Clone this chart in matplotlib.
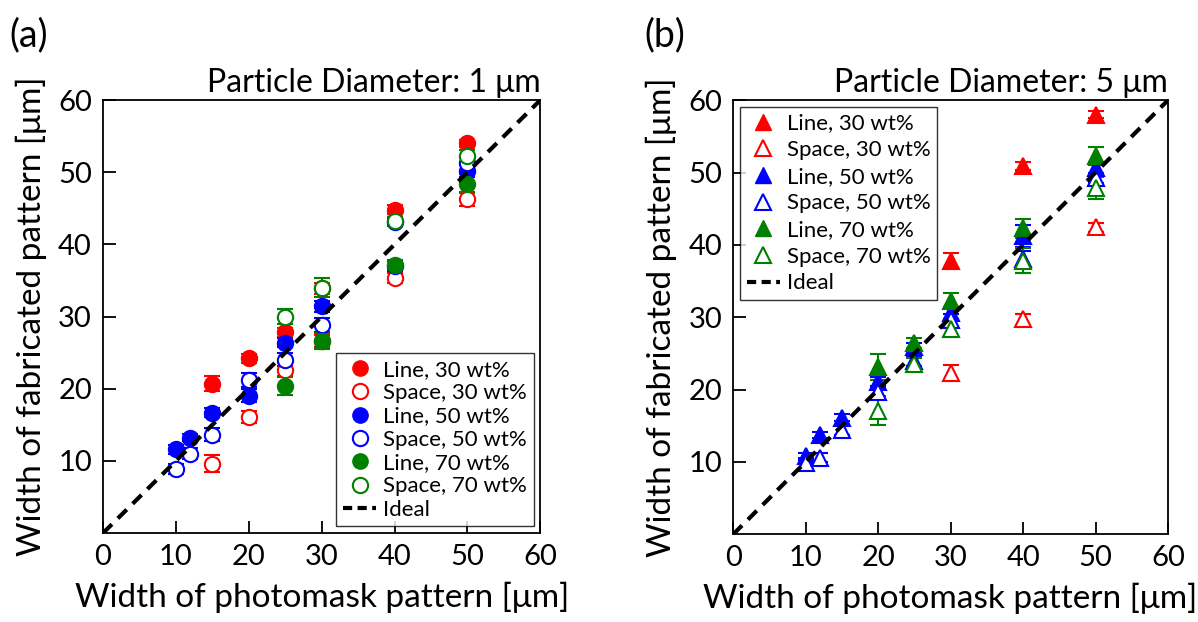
import matplotlib
matplotlib.use("Agg")
import matplotlib.pyplot as plt
from matplotlib.lines import Line2D

plt.rcParams['font.family'] = ['Lato', 'DejaVu Sans']

# panel (a): particle diameter 1 um
a_x_line30 = [15, 20, 25, 30, 40, 50]
a_line30 = [20.7, 24.2, 27.8, 33.9, 44.8, 54.0]
a_line30_err = [1.0, 0.6, 0.6, 0.8, 0.6, 0.5]
a_space30 = [9.6, 16.1, 22.6, 26.6, 35.4, 46.3]
a_space30_err = [1.2, 0.8, 1.0, 0.8, 0.7, 1.0]
a_x_50 = [10, 12, 15, 20, 25, 30, 40, 50]
a_line50 = [11.6, 13.2, 16.7, 19.0, 26.4, 31.4, 43.1, 50.2]
a_line50_err = [0.6, 0.5, 0.6, 0.9, 0.6, 0.8, 0.6, 0.8]
a_space50 = [8.9, 11.0, 13.6, 21.2, 24.0, 28.8, 37.0, 51.3]
a_space50_err = [0.7, 0.8, 0.9, 1.0, 0.9, 1.0, 0.7, 1.0]
a_x_70 = [25, 30, 40, 50]
a_line70 = [20.4, 26.6, 37.2, 48.4]
a_line70_err = [1.3, 1.1, 0.7, 1.3]
a_space70 = [30.0, 34.0, 43.2, 52.2]
a_space70_err = [1.0, 1.3, 0.6, 0.9]

# panel (b): particle diameter 5 um
b_x_30 = [30, 40, 50]
b_line30 = [37.8, 50.9, 58.0]
b_line30_err = [1.1, 0.6, 0.5]
b_space30 = [22.3, 29.7, 42.4]
b_space30_err = [1.1, 0.8, 0.6]
b_x_50 = [10, 12, 15, 20, 25, 30, 40, 50]
b_line50 = [10.8, 13.7, 16.1, 21.0, 25.9, 30.6, 41.2, 50.6]
b_line50_err = [0.5, 0.4, 0.5, 0.8, 0.6, 0.8, 1.5, 0.8]
b_space50 = [9.8, 10.6, 14.4, 19.6, 24.0, 29.6, 38.1, 49.3]
b_space50_err = [0.8, 0.6, 0.7, 0.9, 0.7, 0.9, 1.0, 0.7]
b_x_70 = [20, 25, 30, 40, 50]
b_line70 = [23.1, 26.4, 32.3, 42.3, 52.3]
b_line70_err = [1.8, 0.7, 1.0, 1.3, 1.2]
b_space70 = [17.1, 23.5, 28.4, 37.8, 47.9]
b_space70_err = [2.0, 0.8, 1.2, 1.7, 1.5]

ticks_x = [0, 10, 20, 30, 40, 50, 60]
ticks_y = [10, 20, 30, 40, 50, 60]

fig = plt.figure(figsize=(11.98, 6.22), dpi=100)
ax_a = fig.add_axes([0.086, 0.143, 0.365, 0.696])
ax_b = fig.add_axes([0.612, 0.141, 0.363, 0.698])


def series(ax, x, y, err, color, marker, filled, label):
    ax.errorbar(x, y, yerr=err, fmt=marker, color=color, ms=11,
                mfc=color if filled else 'white', mec=color, mew=1.5,
                ecolor=color, elinewidth=1.5, capsize=6, capthick=1.5,
                label=label, zorder=3)


def style(ax, title, legend_loc, handles, spacing):
    ax.plot([0, 60], [0, 60], ls=(0, (3, 2)), color='black', lw=3, zorder=4)
    ax.set_xlim(0, 60)
    ax.set_ylim(0, 60)
    ax.set_xticks(ticks_x)
    ax.set_yticks(ticks_y)
    ax.tick_params(direction='in', length=9, width=1.3, labelsize=21, pad=8)
    for s in ax.spines.values():
        s.set_linewidth(1.3)
    ax.set_xlabel('Width of photomask pattern [μm]', fontsize=24, labelpad=8)
    ax.set_ylabel('Width of fabricated pattern [μm]', fontsize=24, labelpad=8)
    ax.set_title(title, fontsize=23, loc='right', pad=6)
    ax.legend(handles=handles, loc=legend_loc, fontsize=16, frameon=True,
              fancybox=False, edgecolor='black', handletextpad=0.3,
              handlelength=1.5, borderpad=0.3, labelspacing=spacing,
              borderaxespad=0.3)


series(ax_a, a_x_line30, a_line30, a_line30_err, 'red', 'o', True, 'Line, 30 wt%')
series(ax_a, a_x_line30, a_space30, a_space30_err, 'red', 'o', False, 'Space, 30 wt%')
series(ax_a, a_x_50, a_line50, a_line50_err, 'blue', 'o', True, 'Line, 50 wt%')
series(ax_a, a_x_50, a_space50, a_space50_err, 'blue', 'o', False, 'Space, 50 wt%')
series(ax_a, a_x_70, a_line70, a_line70_err, 'green', 'o', True, 'Line, 70 wt%')
series(ax_a, a_x_70, a_space70, a_space70_err, 'green', 'o', False, 'Space, 70 wt%')

series(ax_b, b_x_30, b_line30, b_line30_err, 'red', '^', True, 'Line, 30 wt%')
series(ax_b, b_x_30, b_space30, b_space30_err, 'red', '^', False, 'Space, 30 wt%')
series(ax_b, b_x_50, b_line50, b_line50_err, 'blue', '^', True, 'Line, 50 wt%')
series(ax_b, b_x_50, b_space50, b_space50_err, 'blue', '^', False, 'Space, 50 wt%')
series(ax_b, b_x_70, b_line70, b_line70_err, 'green', '^', True, 'Line, 70 wt%')
series(ax_b, b_x_70, b_space70, b_space70_err, 'green', '^', False, 'Space, 70 wt%')


def handles(marker):
    h = []
    for c, wt in [('red', 30), ('blue', 50), ('green', 70)]:
        h.append(Line2D([], [], ls='none', marker=marker, ms=11, color=c,
                        mfc=c, mec=c, label=f'Line, {wt} wt%'))
        h.append(Line2D([], [], ls='none', marker=marker, ms=11, color=c,
                        mfc='white', mec=c, mew=1.5, label=f'Space, {wt} wt%'))
    h.append(Line2D([], [], ls=(0, (2.2, 1.3)), color='black', lw=3, label='Ideal'))
    return h


style(ax_a, 'Particle Diameter: 1 μm', 'lower right', handles('o'), 0.15)
style(ax_b, 'Particle Diameter: 5 μm', 'upper left', handles('^'), 0.3)

fig.text(0.008, 0.925, '(a)', fontsize=27)
fig.text(0.538, 0.925, '(b)', fontsize=27)

fig.savefig('out.png', dpi=100)
